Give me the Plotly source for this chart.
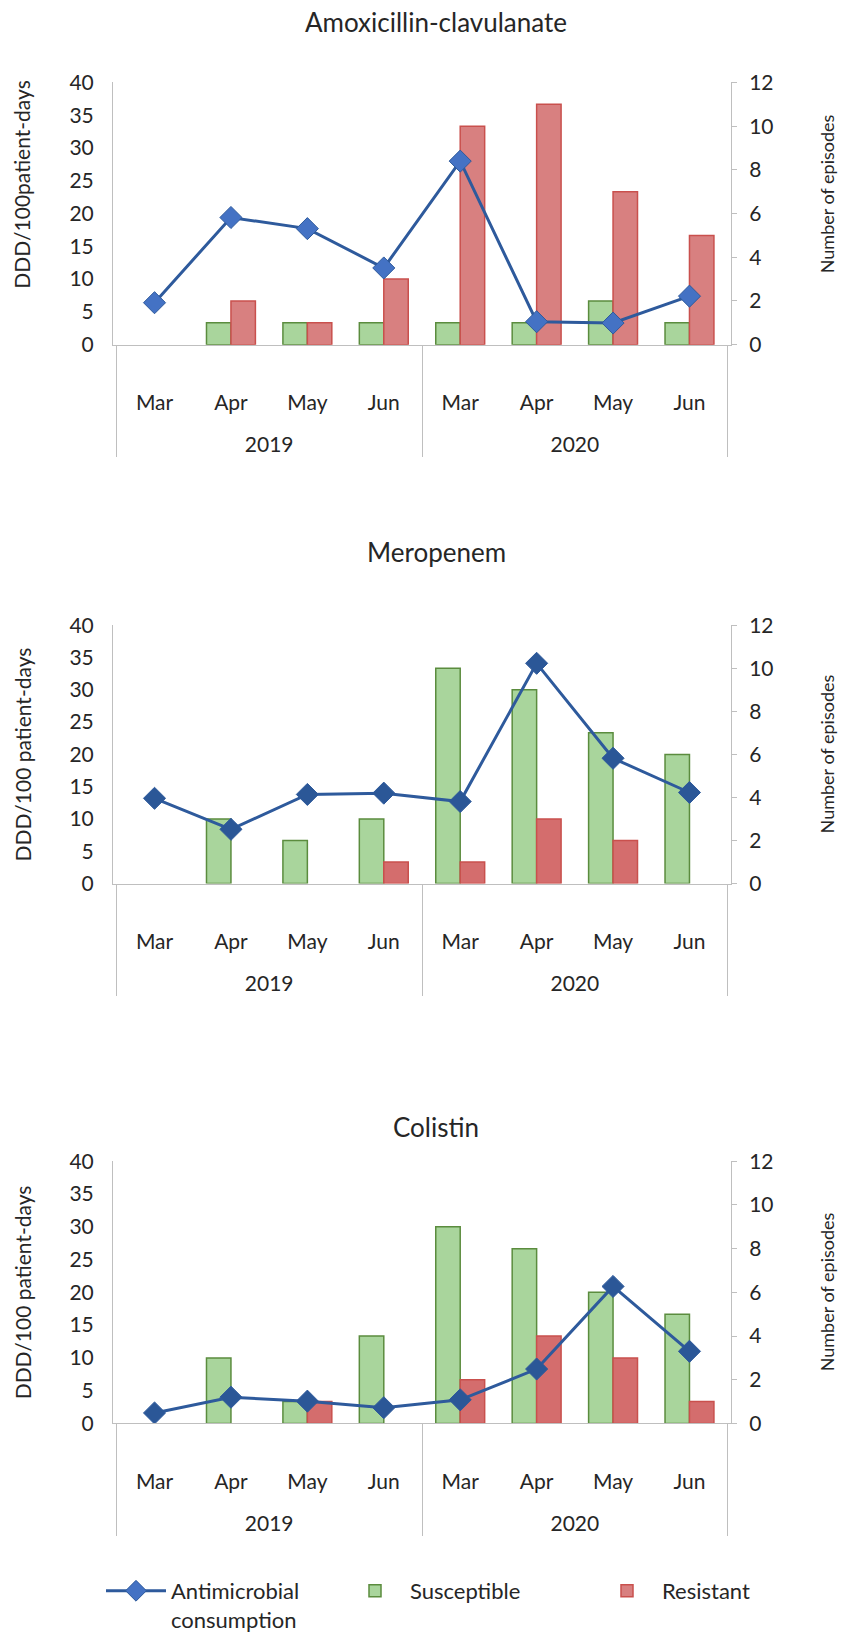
import plotly.graph_objects as go

W = 848
H = 1641

YEARS = ['2019'] * 4 + ['2020'] * 4
MONTHS = ['Mar', 'Apr', 'May', 'Jun'] * 2

TITLES = ['Amoxicillin-clavulanate', 'Meropenem', 'Colistin']
DDD_TITLES = ['DDD/100patient-days', 'DDD/100 patient-days', 'DDD/100 patient-days']
EPISODE_TITLE = 'Number of episodes'

# antimicrobial consumption, DDD/100 patient-days
amox_ddd = [6.4, 19.4, 17.7, 11.7, 28.0, 3.5, 3.3, 7.4]
mero_ddd = [13.2, 8.4, 13.8, 14.0, 12.7, 34.1, 19.4, 14.1]
coli_ddd = [1.6, 4.0, 3.4, 2.4, 3.6, 8.3, 20.9, 11.0]

# number of episodes
amox_susc = [0, 1, 1, 1, 1, 1, 2, 1]
amox_res = [0, 2, 1, 3, 10, 11, 7, 5]
mero_susc = [0, 3, 2, 3, 10, 9, 7, 6]
mero_res = [0, 0, 0, 1, 1, 3, 2, 0]
coli_susc = [0, 3, 1, 4, 9, 8, 6, 5]
coli_res = [0, 0, 1, 0, 2, 4, 3, 1]

ddd = [amox_ddd, mero_ddd, coli_ddd]
susc = [amox_susc, mero_susc, coli_susc]
res = [amox_res, mero_res, coli_res]

# pixel boxes of the three plot areas (top, bottom) and title rows
PLOT_Y = [(71, 343), (634, 902), (1190, 1462)]
TITLE_Y = [8, 558, 1155]
PLOT_X = (113, 731)
LEGEND_TOP = 1614
# vertical nudges of the axis titles, px
DDD_SHIFT = [-30, 0, 0]
EPI_SHIFT = [-20, 0, 0]

FONT = 'Lato'
TXT = '#262626'
AXC = '#BFBFBF'
LINE_C = '#2E5A9C'
MARK_C = ['#4472C4', '#2B5797', '#2B5797']
GREEN = '#A9D59C'
GREEN_L = '#5B8C3E'
RED = ['#D88080', '#D46D6D', '#D46D6D']
RED_L = '#C9504D'


def px_x(p):
    return p / W


def px_y(p):
    return 1 - p / H


def no_zero(vals):
    return [v if v else None for v in vals]


# a blank line under each month leaves room above the year row, like Excel
month_labels = [m + '<br>\u00a0' for m in MONTHS]
year_labels = ['\u00a0<br>' + y for y in YEARS]

fig = go.Figure()
annotations = []

for i in range(3):
    xa = 'x' if i == 0 else f'x{i + 1}'
    yb = 'y' if i == 0 else f'y{2 * i + 1}'
    yl = f'y{2 * i + 2}'
    first = i == 0
    cats = [year_labels, month_labels]

    fig.add_trace(go.Bar(
        x=cats, y=no_zero(susc[i]), name='Susceptible',
        marker=dict(color=GREEN, line=dict(color=GREEN_L, width=1.5)),
        xaxis=xa, yaxis=yb, showlegend=first, legend='legend2'))
    fig.add_trace(go.Bar(
        x=cats, y=no_zero(res[i]), name='Resistant',
        marker=dict(color=RED[i], line=dict(color=RED_L, width=1.5)),
        xaxis=xa, yaxis=yb, showlegend=first, legend='legend3'))
    fig.add_trace(go.Scatter(
        x=cats, y=ddd[i], name='Antimicrobial<br>consumption',
        mode='lines+markers', line=dict(color=LINE_C, width=3),
        marker=dict(symbol='diamond', size=17, color=MARK_C[i],
                    line=dict(color=LINE_C, width=1)),
        xaxis=xa, yaxis=yl, showlegend=first, legend='legend'))

    top, bot = PLOT_Y[i]
    ydom = [px_y(bot), px_y(top)]
    xdom = [px_x(PLOT_X[0]), px_x(PLOT_X[1])]

    xkey = 'xaxis' if i == 0 else f'xaxis{i + 1}'
    ybkey = 'yaxis' if i == 0 else f'yaxis{2 * i + 1}'
    ylkey = f'yaxis{2 * i + 2}'

    fig.layout[xkey] = dict(
        type='multicategory', domain=xdom, anchor=yb,
        showline=True, linecolor=AXC, linewidth=1,
        showdividers=True, dividercolor=AXC, dividerwidth=1,
        ticks='', showgrid=False, ticklabelstandoff=39,
        tickfont=dict(size=21, color=TXT))
    fig.layout[ybkey] = dict(
        domain=ydom, anchor=xa, side='right', range=[0, 12], dtick=2,
        showline=True, linecolor=AXC, ticks='outside', ticklen=5,
        tickcolor=AXC, showgrid=False, zeroline=False,
        ticklabelstandoff=8, tickfont=dict(size=21, color=TXT))
    fig.layout[ylkey] = dict(
        overlaying=yb, anchor=xa, side='left', range=[0, 40], dtick=5,
        showline=True, linecolor=AXC, ticks='', showgrid=False,
        zeroline=False, ticklabelstandoff=14,
        tickfont=dict(size=21, color=TXT))

    mid = (top + bot) / 2
    annotations.append(dict(
        text=TITLES[i], x=px_x(436), y=px_y(TITLE_Y[i]), xref='paper',
        yref='paper', xanchor='center', yanchor='middle', showarrow=False,
        font=dict(size=26, color=TXT)))
    annotations.append(dict(
        text=DDD_TITLES[i], x=px_x(22), y=px_y(mid + DDD_SHIFT[i]),
        xref='paper', yref='paper', xanchor='center', yanchor='middle',
        showarrow=False, textangle=-90, font=dict(size=21, color=TXT)))
    annotations.append(dict(
        text=EPISODE_TITLE, x=px_x(827), y=px_y(mid + EPI_SHIFT[i]),
        xref='paper', yref='paper', xanchor='center', yanchor='middle',
        showarrow=False, textangle=-90, font=dict(size=18, color=TXT)))

legend_font = dict(size=22, color=TXT)
fig.update_layout(
    width=W, height=H,
    margin=dict(l=0, r=0, t=0, b=0),
    paper_bgcolor='white', plot_bgcolor='white',
    font=dict(family=FONT, color=TXT),
    barmode='group', bargap=0.36, bargroupgap=0,
    annotations=annotations,
    legend=dict(x=px_x(101), y=px_y(LEGEND_TOP), xanchor='left',
                yanchor='top', valign='top', itemwidth=60, font=legend_font,
                bgcolor='rgba(0,0,0,0)'),
    legend2=dict(x=px_x(340), y=px_y(LEGEND_TOP), xanchor='left',
                 yanchor='top', itemwidth=60, font=legend_font,
                 bgcolor='rgba(0,0,0,0)'),
    legend3=dict(x=px_x(592), y=px_y(LEGEND_TOP), xanchor='left',
                 yanchor='top', itemwidth=60, font=legend_font,
                 bgcolor='rgba(0,0,0,0)'),
)

fig.write_html("out.html", config={'displayModeBar': False},
               post_script="document.body.style.margin='0';")
